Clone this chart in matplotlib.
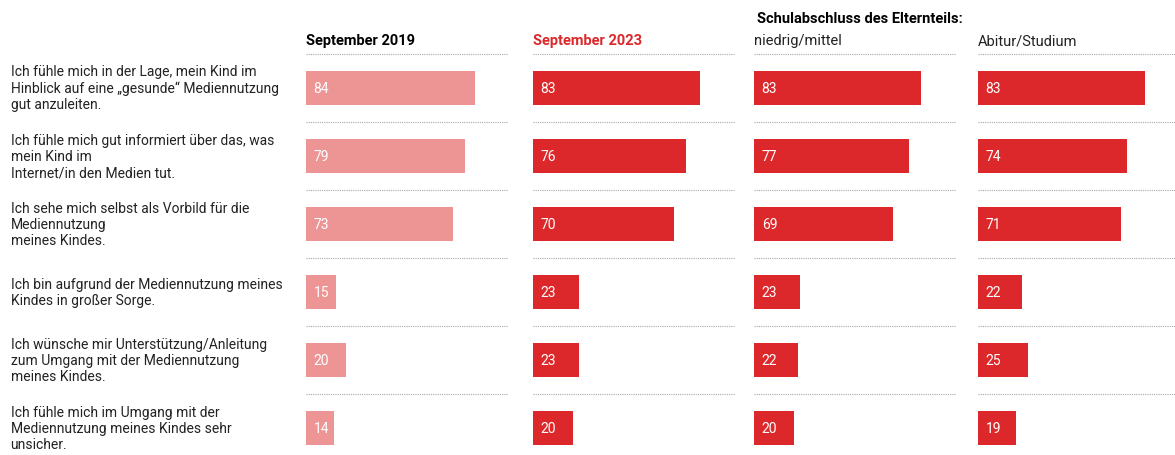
import matplotlib
matplotlib.use("Agg")
import matplotlib.pyplot as plt

plt.rcParams["font.family"] = ["Roboto", "DejaVu Sans"]

C_LIGHT = "#ED9494"
C_RED = "#DC282B"

statements = [
    "Ich fühle mich in der Lage, mein Kind im\nHinblick auf eine „gesunde“ Mediennutzung\ngut anzuleiten.",
    "Ich fühle mich gut informiert über das, was\nmein Kind im\nInternet/in den Medien tut.",
    "Ich sehe mich selbst als Vorbild für die\nMediennutzung\nmeines Kindes.",
    "Ich bin aufgrund der Mediennutzung meines\nKindes in großer Sorge.",
    "Ich wünsche mir Unterstützung/Anleitung\nzum Umgang mit der Mediennutzung\nmeines Kindes.",
    "Ich fühle mich im Umgang mit der\nMediennutzung meines Kindes sehr\nunsicher.",
]
sep_2019 = [84, 79, 73, 15, 20, 14]
sep_2023 = [83, 76, 70, 23, 23, 20]
niedrig_mittel = [83, 77, 69, 23, 22, 20]
abitur_studium = [83, 74, 71, 22, 25, 19]

columns = [
    ("September 2019", sep_2019, C_LIGHT, "bold", "black"),
    ("September 2023", sep_2023, C_RED, "bold", C_RED),
    ("niedrig/mittel", niedrig_mittel, C_RED, "normal", "#222222"),
    ("Abitur/Studium", abitur_studium, C_RED, "normal", "#222222"),
]

W, H = 1175, 456
fig = plt.figure(figsize=(W / 100, H / 100), dpi=100)

lefts = [306, 533, 754, 978]
top_px = 55
rows = range(len(statements))
axes = []
for (title, vals, col, weight, tcol), lx in zip(columns, lefts):
    ax = fig.add_axes([lx / W, 0, 201 / W, (H - top_px) / H])
    ax.barh(list(rows), vals, height=0.5, color=col, edgecolor="none")
    for k, v in zip(rows, vals):
        ax.text(3.8, k, str(v), color="white", fontsize=10,
                va="center", ha="left")
    for k in rows:
        ax.plot([0, 100.5], [k - 0.5, k - 0.5], ls=(0, (1, 1)), color="#a8a8a8",
                lw=0.8, clip_on=False)
    ax.set_xlim(0, 100)
    ax.set_ylim(5.4, -0.5)
    ax.axis("off")
    ax.text(0, -0.64, title, fontsize=10.5, fontweight=weight, color=tcol,
            ha="left", va="baseline")
    axes.append(ax)

axes[2].text(1.5, -0.97, "Schulabschluss des Elternteils:", fontsize=10.5,
             fontweight="bold", color="black", ha="left", va="baseline")

for k, s in zip(rows, statements):
    axes[0].text(-147, k, s, fontsize=10, color="#222222", ha="left", va="center",
                 linespacing=1.2)

fig.savefig("out.png", dpi=100)
